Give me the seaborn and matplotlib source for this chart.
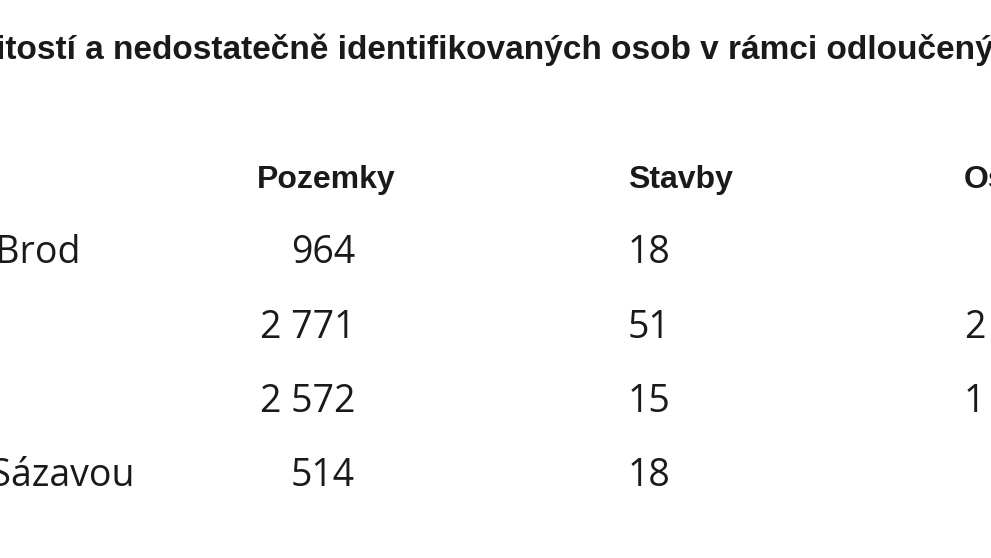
import matplotlib.pyplot as plt
import seaborn as sns

# Data
title = "itostí a nedostatečně identifikovaných osob v rámci odloučených pracovišť"
headers = ["Pozemky", "Stavby", "Osoby"]
rows = ["Havlíčkův Brod", "", "", "Světlá nad Sázavou"]
pozemky = ["964", "2 771", "2 572", "514"]
stavby = ["18", "51", "15", "18"]
osoby = ["", "2", "1", ""]

sns.set_theme(style="white")
plt.rcParams["font.family"] = ["Liberation Sans Narrow", "Liberation Sans", "DejaVu Sans"]

W, H = 991, 558
fig = plt.figure(figsize=(W / 100, H / 100), dpi=100)
fig.patch.set_facecolor("white")
ax = fig.add_axes([0, 0, 1, 1])
ax.set_axis_off()


def fx(px):
    return px / W


def fy(py):
    return 1 - py / H


bold = dict(fontweight="bold", fontsize=24, color="#1a1a1a", va="center")
body = dict(family=["Open Sans", "DejaVu Sans"], fontsize=27, color="#1a1a1a", va="center")

fig.text(fx(-4), fy(50), title, ha="left", **bold)

head_y = 180
for x, h in zip([257, 628, 964], headers):
    fig.text(fx(x), fy(head_y), h, ha="left", **{**bold, "fontsize": 23})

row_y = [253, 328, 402, 476]
row_end = [80, 0, 0, 135]
for i, y in enumerate(row_y):
    if rows[i]:
        fig.text(fx(row_end[i]), fy(y), rows[i], ha="right", **body)
    fig.text(fx(355), fy(y), pozemky[i], ha="right", **body)
    fig.text(fx(628), fy(y), stavby[i], ha="left", **body)
    if osoby[i]:
        fig.text(fx(964), fy(y), osoby[i], ha="left", **body)

fig.savefig("out.png", dpi=100, facecolor="white")
